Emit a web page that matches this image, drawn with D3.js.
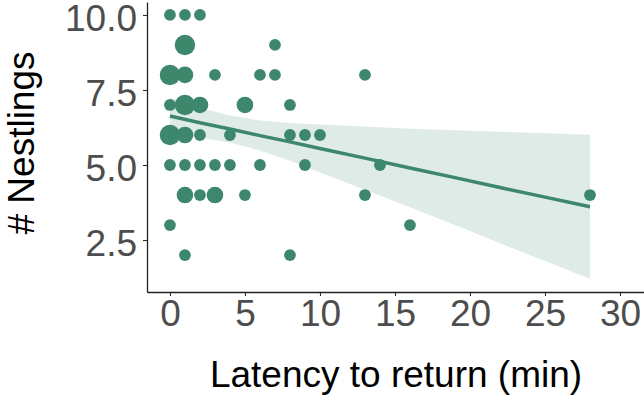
<!DOCTYPE html>
<html lang="en">
<head>
    <meta charset="utf-8">
    <title>Nestlings vs latency</title>
    <script src="https://d3js.org/d3.v7.min.js"></script>
    <style>
        body {
            margin: 0;
            background: white;
            font-family: "Liberation Sans", Arial, Helvetica, sans-serif;
        }
        .axis text {
            font-family: "Liberation Sans", Arial, sans-serif;
            font-size: 37px;
            fill: #4d4d4d;
        }
        .axis path, .axis line {
            stroke: #222;
        }
    </style>
</head>
<body>
<script>

    var w = 644;
    var h = 396;

    // points: latency (min), nestlings, number of overlapping observations
    var latency   = [0, 1, 2,  1, 7,  0, 1, 3, 6, 7, 13,  0, 1, 2, 5, 8,  0, 1, 2, 4, 8, 9, 10,  0, 1, 2, 3, 4, 6, 9, 14,  1, 2, 3, 5, 13, 28,  0, 16,  1, 8];
    var nestlings = [10, 10, 10,  9, 9,  8, 8, 8, 8, 8, 8,  7, 7, 7, 7, 7,  6, 6, 6, 6, 6, 6, 6,  5, 5, 5, 5, 5, 5, 5, 5,  4, 4, 4, 4, 4, 4,  3, 3,  2, 2];
    var counts    = [1, 1, 1,  3, 1,  3, 2, 1, 1, 1, 1,  1, 3, 2, 2, 1,  3, 2, 1, 1, 1, 1, 1,  1, 1, 1, 1, 1, 1, 1, 1,  2, 1, 2, 1, 1, 1,  1, 1,  1, 1];

    // fitted line and 95% band
    var fitX     = [0, 2, 4, 6, 8, 10, 13, 16, 19, 22, 25, 28];
    var fitY     = [6.63, 6.41, 6.20, 5.98, 5.77, 5.55, 5.23, 4.90, 4.58, 4.25, 3.93, 3.61];
    var fitUpper = [7.25, 6.91, 6.65, 6.48, 6.40, 6.35, 6.28, 6.21, 6.16, 6.11, 6.06, 6.01];
    var fitLower = [6.01, 5.91, 5.75, 5.48, 5.14, 4.75, 4.18, 3.59, 3.00, 2.39, 1.80, 1.21];

    var xTicks = [0, 5, 10, 15, 20, 25, 30];
    var yTicks = [2.5, 5.0, 7.5, 10.0];

    var green = "#3d876c";

    var xScale = d3.scaleLinear()
        .domain([-1.53, 31.6])
        .range([147, 644]);

    var yScale = d3.scaleLinear()
        .domain([0.77, 10.43])
        .range([292, 2]);

    var rScale = d3.scaleSqrt()
        .domain([0, 3])
        .range([0, 10.2]);

    var svg = d3.select("body")
        .append("svg")
        .attr("width", w)
        .attr("height", h);

    var band = fitX.map(function(d, i){
        return {x: d, y: fitY[i], lo: fitLower[i], hi: fitUpper[i]};
    });

    //confidence ribbon
    svg.append("path")
        .datum(band)
        .attr("fill", green)
        .attr("fill-opacity", 0.17)
        .attr("d", d3.area()
            .x(function(d){ return xScale(d.x); })
            .y0(function(d){ return yScale(d.lo); })
            .y1(function(d){ return yScale(d.hi); }));

    //regression line
    svg.append("path")
        .datum(band)
        .attr("fill", "none")
        .attr("stroke", green)
        .attr("stroke-width", 3.5)
        .attr("d", d3.line()
            .x(function(d){ return xScale(d.x); })
            .y(function(d){ return yScale(d.y); }));

    //points
    svg.selectAll("circle")
        .data(latency)
        .enter()
        .append("circle")
        .attr("cx", function(d){ return xScale(d); })
        .attr("cy", function(d, i){ return yScale(nestlings[i]); })
        .attr("r", function(d, i){ return rScale(counts[i]); })
        .attr("fill", green);

    //axes
    var xAxis = d3.axisBottom(xScale)
        .tickValues(xTicks)
        .tickSizeInner(4)
        .tickSizeOuter(0)
        .tickPadding(4);

    var yAxis = d3.axisLeft(yScale)
        .tickValues(yTicks)
        .tickFormat(d3.format(".1f"))
        .tickSizeInner(4)
        .tickSizeOuter(0)
        .tickPadding(6);

    svg.append("g")
        .attr("class", "axis")
        .attr("transform", "translate(0,292)")
        .call(xAxis);

    svg.append("g")
        .attr("class", "y axis")
        .attr("transform", "translate(147,0)")
        .call(yAxis);

    //ggplot centres the whole text box, so digits sit a bit low
    svg.selectAll(".y.axis text").attr("dy", "0.42em");

    svg.selectAll(".axis path").attr("stroke-width", 1.3);

    //axis titles
    svg.append("text")
        .attr("x", 396)
        .attr("y", 387)
        .attr("text-anchor", "middle")
        .attr("font-size", 37)
        .attr("fill", "#000")
        .text("Latency to return (min)");

    svg.append("text")
        .attr("transform", "translate(34,143) rotate(-90)")
        .attr("text-anchor", "middle")
        .attr("font-size", 37)
        .attr("fill", "#000")
        .text("# Nestlings");
</script>
</body>
</html>
